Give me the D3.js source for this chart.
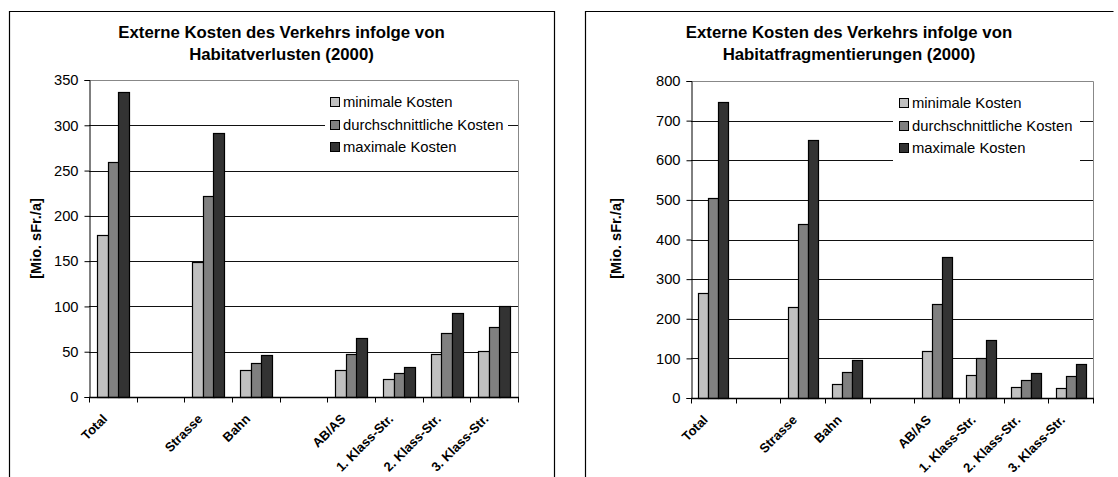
<!DOCTYPE html>
<html>
<head>
<meta charset="utf-8">
<script src="https://cdn.jsdelivr.net/npm/d3@7"></script>
<style>
  html, body { margin: 0; padding: 0; background: #fff; }
  svg { display: block; font-family: "Liberation Sans", Arial, sans-serif; }
</style>
</head>
<body>
<svg id="chart" width="1118" height="477"></svg>
<script>
// ---- data ----
const categories = ["Total", "", "Strasse", "Bahn", "", "AB/AS", "1. Klass-Str.", "2. Klass-Str.", "3. Klass-Str."];
const seriesNames = ["minimale Kosten", "durchschnittliche Kosten", "maximale Kosten"];
const seriesColors = ["#c0c0c0", "#808080", "#333333"];

const verlusteMin = [179, null, 149, 30, null, 30, 20, 48, 51];
const verlusteAvg = [259, null, 222, 38, null, 48, 26, 71, 77];
const verlusteMax = [337, null, 291, 46, null, 65, 33, 93, 101];
const verlusteTicks = [0, 50, 100, 150, 200, 250, 300, 350];

const fragMin = [265, null, 230, 35, null, 118, 59, 29, 25];
const fragAvg = [505, null, 440, 66, null, 237, 102, 46, 56];
const fragMax = [746, null, 650, 97, null, 356, 146, 64, 86];
const fragTicks = [0, 100, 200, 300, 400, 500, 600, 700, 800];

const titleVerluste = ["Externe Kosten des Verkehrs infolge von", "Habitatverlusten (2000)"];
const titleFrag = ["Externe Kosten des Verkehrs infolge von", "Habitatfragmentierungen (2000)"];
const yTitle = "[Mio. sFr./a]";

const svg = d3.select("#chart");

function drawChart(cfg) {
  const g = svg.append("g");
  // outer frame (bottom edge beyond view)
  const bx0 = cfg.box[0] + 0.5, by0 = cfg.box[1] + 0.5, bx1 = cfg.box[2] + 0.5;
  g.append("path")
    .attr("d", cfg.rightEdge
      ? `M${bx0},480V${by0}H${bx1}V480`
      : `M${bx0},480V${by0}H${bx1}`)
    .attr("fill", "none").attr("stroke", "#000").attr("stroke-width", 1.2);

  const x = d3.scaleBand().domain(d3.range(categories.length))
    .range([cfg.plot.left, cfg.plot.right]).paddingInner(0).paddingOuter(0);
  const y = d3.scaleLinear().domain([cfg.ticks[0], cfg.ticks[cfg.ticks.length - 1]])
    .range([cfg.plot.bottom, cfg.plot.top]);
  const bw = x.bandwidth() / 4.5;
  const x1 = d3.scaleBand().domain([0, 1, 2]).range([0.75 * bw, 3.75 * bw]);

  // plot area border (top/right gray)
  g.append("path")
    .attr("d", `M${cfg.plot.left},${cfg.plot.top + 0.5}H${cfg.plot.right + 0.5}V${cfg.plot.bottom}`)
    .attr("fill", "none").attr("stroke", "#888").attr("stroke-width", 1);

  // gridlines
  g.append("g").selectAll("line").data(cfg.ticks.slice(1, -1)).join("line")
    .attr("x1", cfg.plot.left).attr("x2", cfg.plot.right)
    .attr("y1", d => Math.round(y(d)) + 0.5).attr("y2", d => Math.round(y(d)) + 0.5)
    .attr("stroke", "#111").attr("stroke-width", 1);

  // legend (white background breaking gridlines)
  const lg = g.append("g");
  lg.append("rect").attr("x", cfg.legend.x0).attr("y", cfg.legend.y - 12)
    .attr("width", cfg.legend.x1 - cfg.legend.x0).attr("height", 70).attr("fill", "#fff");
  seriesNames.forEach((name, i) => {
    const cy = cfg.legend.y + i * 22.5;
    lg.append("rect").attr("x", cfg.legend.sx + 0.5).attr("y", Math.round(cy - 5) + 0.5)
      .attr("width", 9).attr("height", 9)
      .attr("fill", seriesColors[i]).attr("stroke", "#000").attr("stroke-width", 1);
    lg.append("text").attr("x", cfg.legend.sx + 13).attr("y", cy)
      .attr("dy", "0.36em").attr("font-size", 14.8).attr("fill", "#000").text(name);
  });

  // bars
  const series = cfg.series;
  series.forEach((vals, si) => {
    g.append("g").selectAll("rect").data(vals.map((v, i) => ({ v, i })).filter(d => d.v != null))
      .join("rect")
      .attr("x", d => Math.round(x(d.i) + x1(si)) + 0.5)
      .attr("y", d => Math.round(y(d.v)) + 0.5)
      .attr("width", Math.round(x1.bandwidth()))
      .attr("height", d => Math.round(y(0)) - Math.round(y(d.v)))
      .attr("fill", seriesColors[si]).attr("stroke", "#000").attr("stroke-width", 1.2);
  });

  // y axis
  const ya = g.append("g").attr("transform", `translate(${cfg.plot.left + 0.5},0)`)
    .call(d3.axisLeft(y).tickValues(cfg.ticks).tickSize(5).tickPadding(6).tickFormat(d3.format("d")));
  ya.select(".domain").attr("stroke", "#000");
  ya.selectAll(".tick line").attr("stroke", "#000");
  ya.selectAll("text").attr("font-size", 14.7).attr("fill", "#000").attr("font-family", "Liberation Sans, Arial, sans-serif");

  // x axis
  const xa = g.append("g").attr("transform", `translate(0,${Math.round(cfg.plot.bottom) + 0.5})`);
  xa.append("line").attr("x1", cfg.plot.left).attr("x2", cfg.plot.right + 1)
    .attr("stroke", "#000").attr("stroke-width", 1.3);
  const boundaries = d3.range(categories.length + 1).map(i => cfg.plot.left + i * x.step());
  xa.selectAll("line.tk").data(boundaries).join("line").attr("class", "tk")
    .attr("x1", d => Math.round(d) + 0.5).attr("x2", d => Math.round(d) + 0.5)
    .attr("y1", 0).attr("y2", 5).attr("stroke", "#000");
  xa.selectAll("text").data(categories.map((c, i) => ({ c, i })).filter(d => d.c)).join("text")
    .attr("transform", d => `translate(${x(d.i) + x.bandwidth() / 2 - 8},${19}) rotate(-45)`)
    .attr("text-anchor", "end").attr("dy", "0.35em")
    .attr("font-size", 13).attr("font-weight", "bold").attr("fill", "#000").text(d => d.c);

  // title
  const cx = (cfg.box[0] + cfg.box[2]) / 2;
  cfg.title.forEach((t, i) => {
    g.append("text").attr("x", cx).attr("y", 32.5 + i * 22).attr("dy", "0.35em")
      .attr("text-anchor", "middle").attr("font-size", 16.8).attr("font-weight", "bold").text(t);
  });

  // y title
  g.append("text").attr("transform", `translate(${cfg.ytx},${238.5}) rotate(-90)`)
    .attr("text-anchor", "middle").attr("dy", "0.35em")
    .attr("font-size", 14.5).attr("font-weight", "bold").text(yTitle);
}

drawChart({
  box: [9, 11, 554],
  rightEdge: true,
  plot: { left: 89, right: 518, top: 80, bottom: 397 },
  ticks: verlusteTicks,
  series: [verlusteMin, verlusteAvg, verlusteMax],
  legend: { x0: 325, x1: 508, sx: 330, y: 102 },
  title: titleVerluste,
  ytx: 36
});

drawChart({
  box: [585, 11, 1113],
  rightEdge: false,
  plot: { left: 691, right: 1093, top: 81, bottom: 398 },
  ticks: fragTicks,
  series: [fragMin, fragAvg, fragMax],
  legend: { x0: 893, x1: 1080, sx: 899, y: 103 },
  title: titleFrag,
  ytx: 616
});
</script>
</body>
</html>
